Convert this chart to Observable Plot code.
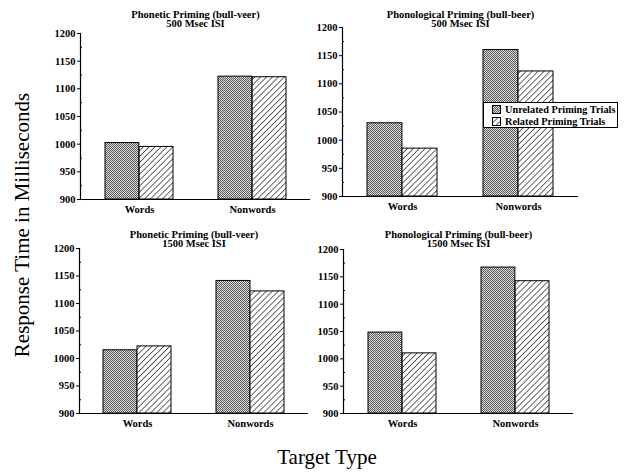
<!DOCTYPE html>
<html>
<head>
<meta charset="utf-8">
<script src="https://cdn.jsdelivr.net/npm/d3@7"></script>
<script src="https://cdn.jsdelivr.net/npm/@observablehq/plot@0.6"></script>
<style>
  body { margin: 0; background: #fff; }
  #wrap { position: relative; width: 624px; height: 473px; font-family: "Liberation Serif", "DejaVu Serif", serif; color: #000; overflow: hidden; }
  .panel { position: absolute; }
  .ylab { position: absolute; left: 22px; top: 225px; transform: translate(-50%, -50%) rotate(-90deg); font-size: 21px; white-space: nowrap; }
  .xlab { position: absolute; left: 327px; top: 457px; transform: translate(-50%, -50%); font-size: 21px; white-space: nowrap; }
  .legend { position: absolute; left: 483px; top: 102px; width: 133px; height: 24px; border: 1px solid #000; background: #fff; font-weight: bold; font-size: 10.3px; }
  .legend .row { position: absolute; left: 8px; display: flex; align-items: center; white-space: nowrap; }
  .legend svg { margin-right: 4px; }
</style>
</head>
<body>
<div id="wrap">
  <div class="ylab">Response Time in Milliseconds</div>
  <div class="xlab">Target Type</div>
</div>
<script>
// ---- data ----
const categories = ["Words", "Nonwords"];
const conditions = ["Unrelated Priming Trials", "Related Priming Trials"];
const panelTitles = ["Phonetic Priming (bull-veer)", "Phonological Priming (bull-beer)", "Phonetic Priming (bull-veer)", "Phonological Priming (bull-beer)"];
const panelSubtitles = ["500 Msec ISI", "500 Msec ISI", "1500 Msec ISI", "1500 Msec ISI"];
const phonetic500Unrelated = [1002, 1122];
const phonetic500Related = [995, 1121];
const phonological500Unrelated = [1030, 1160];
const phonological500Related = [985, 1122];
const phonetic1500Unrelated = [1015, 1141];
const phonetic1500Related = [1022, 1122];
const phonological1500Unrelated = [1048, 1167];
const phonological1500Related = [1010, 1142];
const yDomain = [900, 1200];
const yTicks = [900, 950, 1000, 1050, 1100, 1150, 1200];
const yMinorTicks = [925, 975, 1025, 1075, 1125, 1175];

const series = [
  [phonetic500Unrelated, phonetic500Related],
  [phonological500Unrelated, phonological500Related],
  [phonetic1500Unrelated, phonetic1500Related],
  [phonological1500Unrelated, phonological1500Related]
];

// ---- layout ----
const layouts = [
  {left: 40, top: 0, width: 280, height: 215, ml: 40, mr: 10, mt: 33, mb: 16},
  {left: 300, top: 0, width: 324, height: 215, ml: 42, mr: 46, mt: 27, mb: 19},
  {left: 40, top: 220, width: 280, height: 215, ml: 39, mr: 12, mt: 28, mb: 22},
  {left: 300, top: 220, width: 324, height: 215, ml: 43, mr: 51, mt: 29, mb: 22}
];
const padInner = 0.4, padOuter = 0.21;

const defs = `
<pattern id="dots" width="2" height="2" patternUnits="userSpaceOnUse">
  <rect width="2" height="2" fill="#dcdcdc"/>
  <rect width="1" height="1" fill="#5a5a5a"/>
  <rect x="1" y="1" width="1" height="1" fill="#5a5a5a"/>
</pattern>
<pattern id="hatch" width="4.2" height="4.2" patternUnits="userSpaceOnUse" patternTransform="rotate(45)">
  <rect width="4.2" height="4.2" fill="#fff"/>
  <line x1="0" y1="0" x2="0" y2="4.2" stroke="#000" stroke-width="1.2"/>
</pattern>`;

const wrap = document.getElementById("wrap");

series.forEach(([unrel, rel], p) => {
  const L = layouts[p];
  const innerW = L.width - L.ml - L.mr;
  const step = innerW / (categories.length - padInner + 2 * padOuter);
  const bw = step * (1 - padInner);
  const dataU = categories.map((c, i) => ({category: c, condition: conditions[0], value: unrel[i]}));
  const dataR = categories.map((c, i) => ({category: c, condition: conditions[1], value: rel[i]}));
  const plot = Plot.plot({
    width: L.width,
    height: L.height,
    marginLeft: L.ml,
    marginRight: L.mr,
    marginTop: L.mt,
    marginBottom: L.mb,
    style: {fontFamily: "Liberation Serif, serif", background: "transparent", color: "#000"},
    x: {domain: categories, paddingInner: padInner, paddingOuter: padOuter, axis: null},
    y: {domain: yDomain, axis: null},
    marks: [
      Plot.barY(dataU, {x: "category", y1: () => yDomain[0], y2: "value", fill: "url(#dots)", stroke: "#000", strokeWidth: 1, insetRight: bw / 2}),
      Plot.barY(dataR, {x: "category", y1: () => yDomain[0], y2: "value", fill: "url(#hatch)", stroke: "#000", strokeWidth: 1, insetLeft: bw / 2}),
      Plot.ruleY([yDomain[0]], {stroke: "#000", strokeWidth: 1.2}),
      Plot.axisY(yMinorTicks, {tickSize: -2, tickFormat: () => "", stroke: "#000", label: null}),
      Plot.axisY(yTicks, {tickSize: 3, tickPadding: 2, tickFormat: d => String(d), fontSize: 10.5, fontWeight: "bold", stroke: "#000", label: null}),
      Plot.frame({anchor: "left", stroke: "#000", strokeWidth: 1.2}),
      Plot.axisX({tickSize: 0, tickPadding: 6, fontSize: 10.5, fontWeight: "bold", label: null}),
      Plot.text([panelTitles[p]], {frameAnchor: "top", dy: -(L.mt - 10), fontSize: 10.5, fontWeight: "bold"}),
      Plot.text([panelSubtitles[p]], {frameAnchor: "top", dy: -(L.mt - 19.5), fontSize: 10.5, fontWeight: "bold"})
    ]
  });
  d3.select(plot).insert("defs", ":first-child").html(defs);
  const div = document.createElement("div");
  div.className = "panel";
  div.style.left = L.left + "px";
  div.style.top = L.top + "px";
  div.appendChild(plot);
  wrap.appendChild(div);
});

// legend
const legend = document.createElement("div");
legend.className = "legend";
const fills = ["url(#dots)", "url(#hatch)"];
conditions.forEach((c, i) => {
  const row = document.createElement("div");
  row.className = "row";
  row.style.top = (1 + i * 12) + "px";
  row.innerHTML = `<svg width="9" height="9"><rect x="0.5" y="0.5" width="8" height="8" fill="${fills[i]}" stroke="#000"/></svg><span>${c}</span>`;
  legend.appendChild(row);
});
wrap.appendChild(legend);
</script>
</body>
</html>
